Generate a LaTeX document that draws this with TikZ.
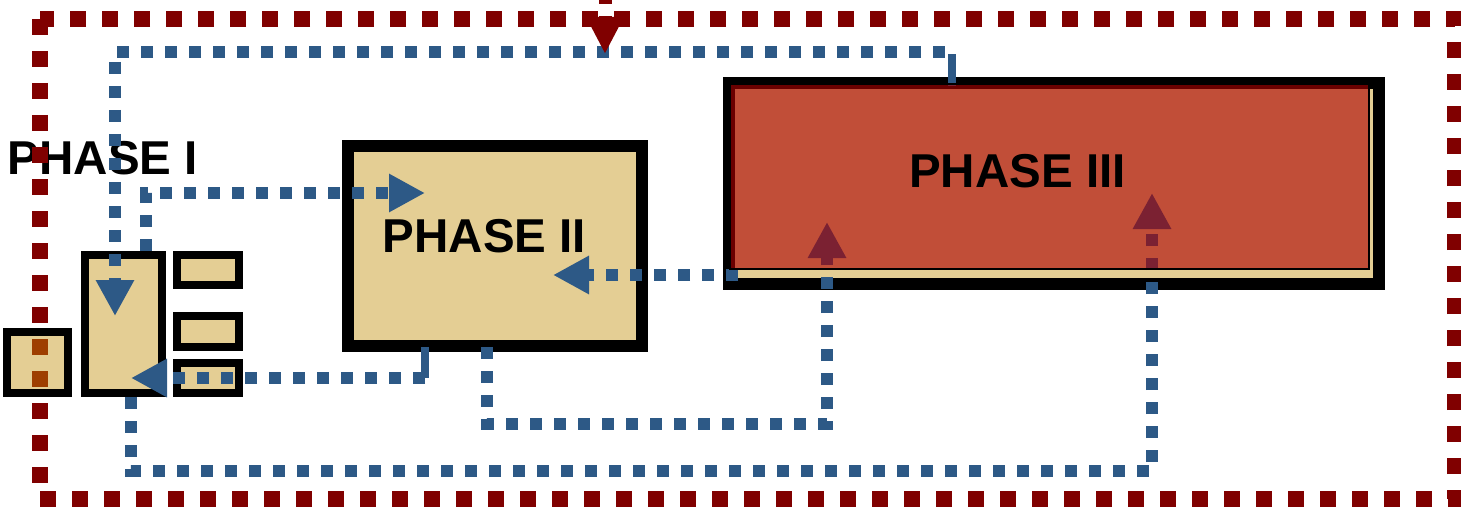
\documentclass[tikz,border=0pt]{standalone}
\usepackage{fontspec}
\setmainfont{Liberation Sans}
\usetikzlibrary{arrows.meta}
\definecolor{fillY}{RGB}{228,206,148}
\definecolor{flowB}{RGB}{45,89,134}
\definecolor{frameR}{RGB}{128,0,0}
\definecolor{ovlR}{RGB}{172,0,0}
\definecolor{mixR}{RGB}{158,62,0}
\begin{document}
\begin{tikzpicture}[x=1pt,y=-1pt,
  phasebox/.style={draw=black, fill=fillY, inner sep=0pt, outer sep=0pt},
  smallbox/.style={phasebox, line width=8pt},
  bigbox/.style={phasebox, line width=12pt},
  flowline/.style={draw=flowB, line width=12pt, dash pattern=on 12pt off 12pt, -{Triangle[width=36pt,length=36pt]}},
  stubline/.style={draw=flowB, line width=8pt},
  outerframe/.style={draw=frameR, line width=16pt, dash pattern=on 16pt off 16pt},
  phasetxt/.style={font=\bfseries\fontsize{47.5}{57}\selectfont, inner sep=0pt, anchor=base}
]
\useasboundingbox (0,0) rectangle (1461,508);
% label of phase I
\node[phasetxt] (t1) at (103,174) {PHASE I};
% outer dashed frame
\coordinate (fNW) at (40,19);
\coordinate (fSW) at (40,499);
\coordinate (fSE) at (1455,499);
\coordinate (fNE) at (1455,19);
\draw[outerframe] (fNW) -- (fSW) -- (fSE) -- (fNE) -- cycle;
% phase I boxes
\node[smallbox, minimum width=61pt, minimum height=61pt] (p1a) at (37.5,362.5) {};
\node[smallbox, minimum width=77pt, minimum height=138pt] (p1b) at (123.5,324) {};
\node[smallbox, minimum width=62pt, minimum height=30pt] (s1) at (208,270) {};
\node[smallbox, minimum width=62pt, minimum height=31pt] (s2) at (208,331.5) {};
\node[smallbox, minimum width=62pt, minimum height=30pt] (s3) at (208,378) {};
\begin{scope}
  \clip (11,336) rectangle (64,389);
  \draw[outerframe, draw=mixR] (fNW) -- (fSW) -- (fSE) -- (fNE) -- cycle;
\end{scope}
% phase II and III boxes
\node[bigbox, minimum width=294pt, minimum height=200pt] (p2) at (495,246) {};
\node[bigbox, minimum width=650pt, minimum height=201pt] (p3) at (1054,183.5) {};
% flow A: phase III top -> phase I tall box
\coordinate (a0) at (952,86);
\coordinate (a1) at (952,54);
\coordinate (a1b) at (945,52);
\coordinate (a2) at (115,52);
\coordinate (a3) at (115,316);
\draw[stubline] (a0) -- (a1);
\draw[flowline] (a1b) -- (a2) -- (a3);
% flow B: phase I -> phase II
\coordinate (b0) at (146,251);
\coordinate (b1) at (146,193);
\coordinate (b2) at (425,193);
\draw[flowline] (b0) -- (b1) -- (b2);
% flow C: phase II -> phase I
\coordinate (c0) at (425,347);
\coordinate (c1) at (425,378);
\coordinate (c2) at (131,378);
\draw[stubline] (c0) -- (c1);
\draw[flowline] (c1) -- (c2);
% flow D: phase II -> phase III
\coordinate (d0) at (487,347);
\coordinate (d1) at (487,424);
\coordinate (d2) at (827,424);
\coordinate (d3) at (827,222);
\draw[flowline] (d0) -- (d1) -- (d2) -- (d3);
% flow E: phase I -> phase III
\coordinate (e0) at (131,397);
\coordinate (e1) at (131,471);
\coordinate (e2) at (1152,471);
\coordinate (e3) at (1152,193);
\draw[flowline] (e0) -- (e1) -- (e2) -- (e3);
% flow F: phase III -> phase II
\coordinate (f0) at (738,275);
\coordinate (f1) at (553,275);
\draw[flowline] (f0) -- (f1);
% translucent overlay of phase III
\node[draw=black, line width=2pt, fill=ovlR, fill opacity=0.62, inner sep=0pt, outer sep=0pt,
      minimum width=639pt, minimum height=185pt] (p3o) at (1049.5,176.5) {};
% labels
\node[phasetxt] (t2) at (484.5,252) {PHASE II};
\node[phasetxt] (t3) at (1017.5,187) {PHASE III};
% incoming red arrow at top
\coordinate (r0) at (605,-8);
\coordinate (r1) at (605,54);
\draw[draw=frameR, line width=13pt, dash pattern=on 12pt off 12pt, -{Triangle[width=35pt,length=37pt]}] (r0) -- (r1);
\end{tikzpicture}
\end{document}
